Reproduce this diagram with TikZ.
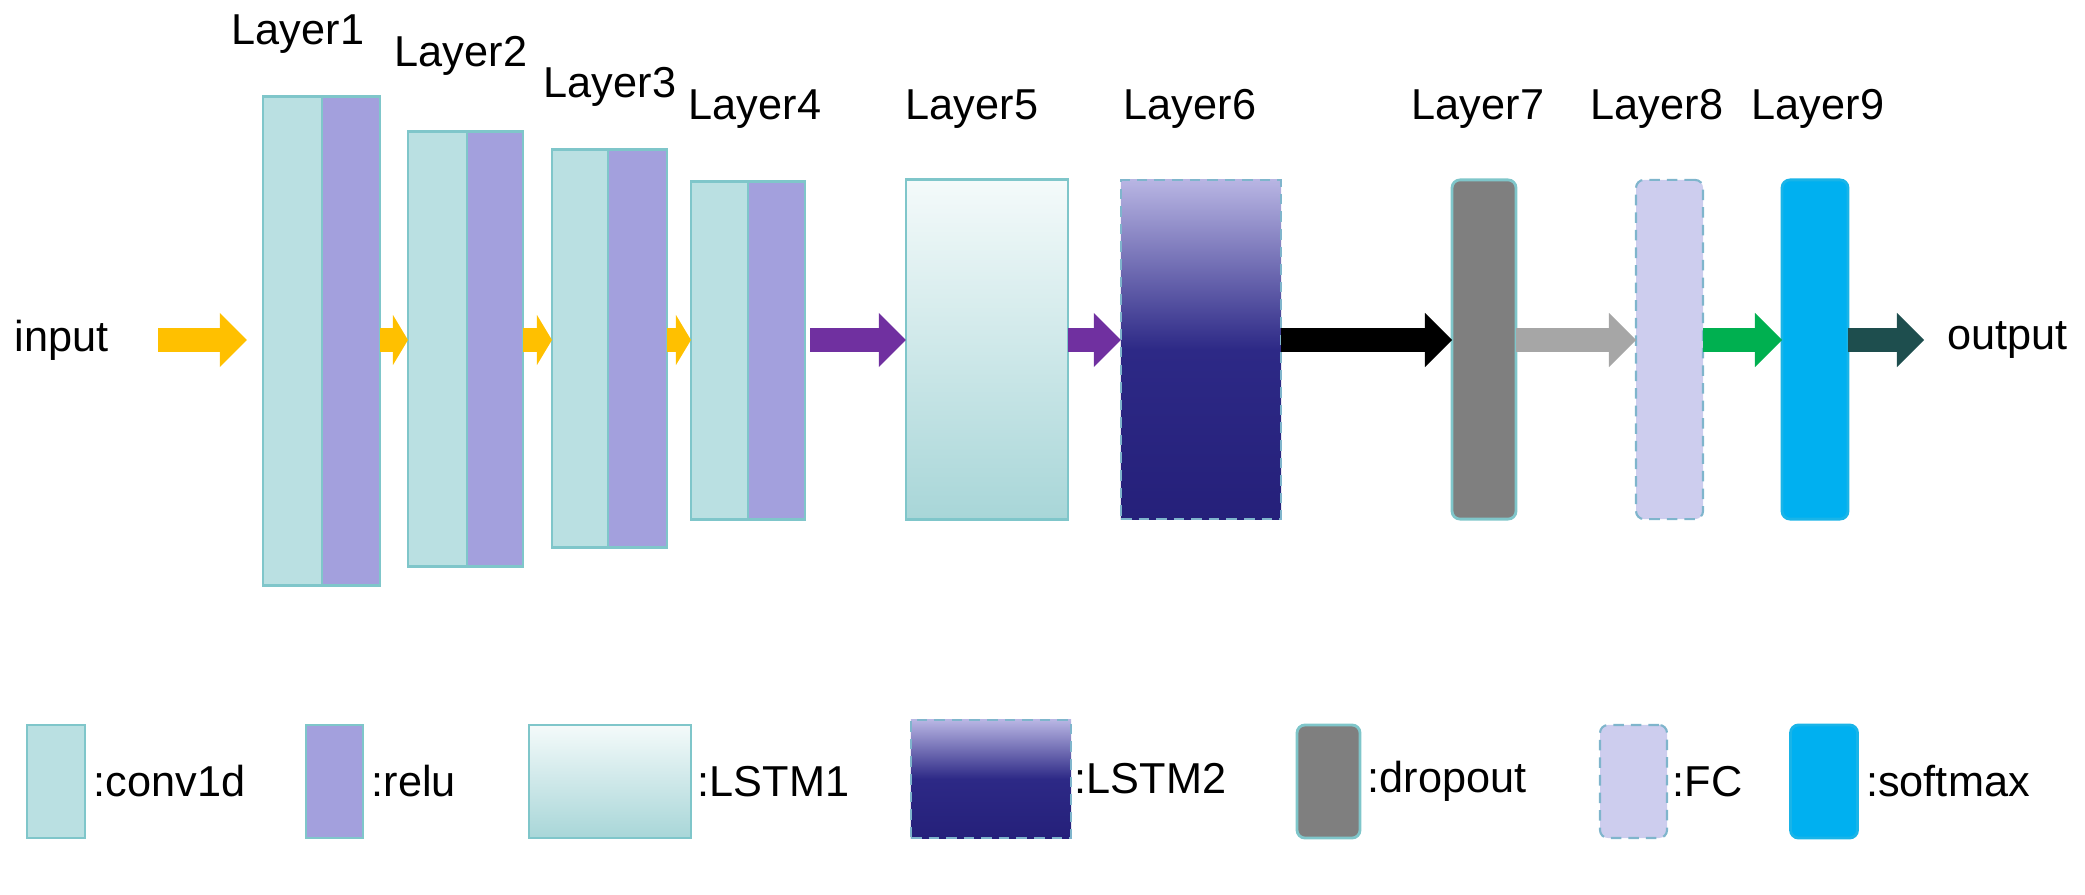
\documentclass[tikz,border=0pt]{standalone}
\usepackage{fontspec}
\setmainfont{Liberation Sans}
\usetikzlibrary{arrows.meta,positioning}

\definecolor{convfill}{HTML}{BAE0E2}
\definecolor{relufill}{HTML}{A3A0DD}
\definecolor{tealedge}{HTML}{7FC6CA}
\definecolor{lstmlight}{HTML}{F4FAFA}
\definecolor{lstmteal}{HTML}{A8D6D8}
\definecolor{lavtop}{HTML}{B8B5E3}
\definecolor{navymid}{HTML}{2D2986}
\definecolor{navydeep}{HTML}{25207A}
\definecolor{dropgrey}{HTML}{7F7F7F}
\definecolor{fcfill}{HTML}{CDCDEE}
\definecolor{fcedge}{HTML}{7FB5CC}
\definecolor{softblue}{HTML}{00B0F0}
\definecolor{arrgold}{HTML}{FFC000}
\definecolor{arrpurple}{HTML}{7030A0}
\definecolor{arrgrey}{HTML}{A6A6A6}
\definecolor{arrgreen}{HTML}{00B050}
\definecolor{arrteal}{HTML}{1E4E4E}

\begin{document}
\begin{tikzpicture}
                [
                    x=0.01cm,y=-0.01cm,
                    every node/.style={font=\fontsize{12.3}{14}\selectfont},
                    conv/.style={rectangle,fill=convfill,draw=tealedge,line width=0.8pt,inner sep=0,outer sep=0},
                    relu/.style={conv,fill=relufill},
                    lstmone/.style={conv,top color=lstmlight,bottom color=lstmteal},
                    lstmtwo/.style={rectangle,draw=fcedge,densely dashed,line width=0.6pt,inner sep=0,outer sep=0,top color=lavtop,bottom color=navydeep,middle color=navymid},
                    dropout/.style={conv,fill=dropgrey,rounded corners=0.08cm},
                    fc/.style={rectangle,fill=fcfill,draw=fcedge,densely dashed,line width=0.6pt,rounded corners=0.08cm,inner sep=0,outer sep=0},
                    softmax/.style={conv,fill=softblue,draw=softblue!80!tealedge,rounded corners=0.08cm},
                    layername/.style={inner sep=0,anchor=base},
                    legtext/.style={inner sep=0},
                    fat/.style={draw=#1,line width=0.24cm,-{Triangle[length=0.27cm,width=0.54cm,line width=0pt]}},
                    shorthead/.style={-{Triangle[length=0.15cm,width=0.5cm,line width=0pt]}},
                ]
                \useasboundingbox (0,0) rectangle (2085,894);
                \coordinate (axis) at (0,340);

                % network
                \node[conv,minimum width=0.59cm,minimum height=4.88cm] (l1c) at (292.5,341) {};
                \node[relu,minimum width=0.58cm,minimum height=4.88cm,right=0pt of l1c] (l1r) {};
                \node[conv,minimum width=0.59cm,minimum height=4.34cm] (l2c) at (437.5,349) {};
                \node[relu,minimum width=0.56cm,minimum height=4.34cm,right=0pt of l2c] (l2r) {};
                \node[conv,minimum width=0.56cm,minimum height=3.97cm] (l3c) at (580,348.5) {};
                \node[relu,minimum width=0.59cm,minimum height=3.97cm,right=0pt of l3c] (l3r) {};
                \node[conv,minimum width=0.57cm,minimum height=3.37cm] (l4c) at (719.5,350.5) {};
                \node[relu,minimum width=0.57cm,minimum height=3.37cm,right=0pt of l4c] (l4r) {};
                \node[lstmone,minimum width=1.62cm,minimum height=3.39cm] (l5) at (987,349.5) {};
                \node[lstmtwo,minimum width=1.60cm,minimum height=3.39cm] (l6) at (1201,349.5) {};
                \node[dropout,minimum width=0.64cm,minimum height=3.39cm] (l7) at (1484,349.5) {};
                \node[fc,minimum width=0.67cm,minimum height=3.39cm] (l8) at (1669.5,349.5) {};
                \node[softmax,minimum width=0.66cm,minimum height=3.39cm] (l9) at (1815,349.5) {};

                \node[layername] (n1) at (298,45) {Layer1};
                \node[layername] (n2) at (461,67) {Layer2};
                \node[layername] (n3) at (610,98) {Layer3};
                \node[layername] (n4) at (755,120) {Layer4};
                \node[layername] (n5) at (972,120) {Layer5};
                \node[layername] (n6) at (1190,120) {Layer6};
                \node[layername] (n7) at (1478,120) {Layer7};
                \node[layername] (n8) at (1657,120) {Layer8};
                \node[layername] (n9) at (1818,120) {Layer9};

                \node[inner sep=0,anchor=east] (input) at (109,340) {input};
                \node[inner sep=0,anchor=west] (output) at (1947,340) {output};

                \draw[fat=arrgold,shorten <=0.49cm,shorten >=0.16cm] (input.east) -- (l1c.west |- axis);
                \draw[fat=arrgold,shorthead] (l1r.east |- axis) -- (l2c.west |- axis);
                \draw[fat=arrgold,shorthead] (l2r.east |- axis) -- (l3c.west |- axis);
                \draw[fat=arrgold,shorthead] (l3r.east |- axis) -- (l4c.west |- axis);
                \draw[fat=arrpurple,shorten <=0.05cm] (l4r.east |- axis) -- (l5.west |- axis);
                \draw[fat=arrpurple] (l5.east |- axis) -- (l6.west |- axis);
                \draw[fat=black] (l6.east |- axis) -- (l7.west |- axis);
                \draw[fat=arrgrey] (l7.east |- axis) -- (l8.west |- axis);
                \draw[fat=arrgreen] (l8.east |- axis) -- (l9.west |- axis);
                \draw[fat=arrteal,shorten >=0.23cm] (l9.east |- axis) -- (output.west);

                % legend
                \node[conv,minimum width=0.58cm,minimum height=1.13cm] (k1) at (56,781.5) {};
                \node[legtext,right=0.08cm of k1] (t1) {:conv1d};
                \node[relu,minimum width=0.57cm,minimum height=1.13cm] (k2) at (334.5,781.5) {};
                \node[legtext,right=0.08cm of k2] (t2) {:relu};
                \node[lstmone,minimum width=1.62cm,minimum height=1.13cm] (k3) at (610,781.5) {};
                \node[legtext,right=0.06cm of k3] (t3) {:LSTM1};
                \node[lstmtwo,minimum width=1.60cm,minimum height=1.18cm] (k4) at (991,779) {};
                \node[legtext,right=0.03cm of k4] (t4) {:LSTM2};
                \node[dropout,minimum width=0.63cm,minimum height=1.13cm] (k5) at (1328.5,781.5) {};
                \node[legtext,right=0.07cm of k5] (t5) {:dropout};
                \node[fc,minimum width=0.67cm,minimum height=1.13cm] (k6) at (1633.5,781.5) {};
                \node[legtext,right=0.05cm of k6] (t6) {:FC};
                \node[softmax,minimum width=0.67cm,minimum height=1.13cm] (k7) at (1824,781.5) {};
                \node[legtext,right=0.08cm of k7] (t7) {:softmax};
            \end{tikzpicture}
\end{document}
